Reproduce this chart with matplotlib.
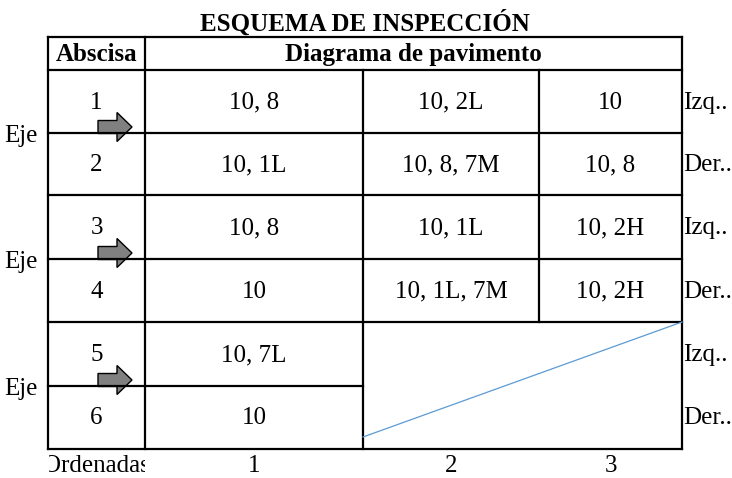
import matplotlib
matplotlib.use("Agg")
import matplotlib.pyplot as plt
from matplotlib.patches import FancyArrow, Rectangle

# table content
titulo = "ESQUEMA DE INSPECCIÓN"
encabezados = ["Abscisa", "Diagrama de pavimento"]
abscisas = ["1", "2", "3", "4", "5", "6"]
col_1 = ["10, 8", "10, 1L", "10, 8", "10", "10, 7L", "10"]
col_2 = ["10, 2L", "10, 8, 7M", "10, 1L", "10, 1L, 7M"]
col_3 = ["10", "10, 8", "10, 2H", "10, 2H"]
lados = ["Izq..", "Der..:", "Izq..", "Der..", "Izq..", "Der.."]
ordenadas = ["1", "2", "3"]

plt.rcParams["font.family"] = ["Liberation Serif", "DejaVu Serif"]
FS = 18

fig = plt.figure(figsize=(7.32, 4.78), dpi=100)
ax = fig.add_axes([0, 0, 1, 1])
ax.set_xlim(0, 732)
ax.set_ylim(478, 0)
ax.axis("off")

# layout in pixels
xs = [48, 145, 363, 539, 682]
ys = [70, 133, 195, 259, 322, 386, 449]
top = 37
lw = 1.6

def hline(y, x0, x1):
    ax.plot([x0, x1], [y, y], color="black", lw=lw, solid_capstyle="projecting")

def vline(x, y0, y1):
    ax.plot([x, x], [y0, y1], color="black", lw=lw, solid_capstyle="projecting")

hline(top, xs[0], xs[-1])
hline(ys[0], xs[0], xs[-1])
for y in ys[1:5]:
    hline(y, xs[0], xs[-1])
hline(ys[5], xs[0], xs[2])
hline(ys[6], xs[0], xs[-1])
vline(xs[0], top, ys[-1])
vline(xs[1], top, ys[-1])
vline(xs[2], ys[0], ys[-1])
vline(xs[3], ys[0], ys[4])
vline(xs[4], top, ys[-1])

# blue diagonal in the empty block
ax.plot([xs[2], xs[4]], [ys[6] - 12, ys[4]], color="#5b9bd5", lw=0.9)

ax.text((xs[0] + xs[-1]) / 2, 23, titulo, ha="center", va="center",
        fontsize=FS, fontweight="bold")
ax.text((xs[0] + xs[1]) / 2, (top + ys[0]) / 2 + 1, encabezados[0], ha="center",
        va="center", fontsize=FS, fontweight="bold")
ax.text((xs[1] + xs[-1]) / 2, (top + ys[0]) / 2 + 1, encabezados[1], ha="center",
        va="center", fontsize=FS, fontweight="bold")

columnas = [abscisas, col_1, col_2, col_3]
for c, valores in enumerate(columnas):
    cx = (xs[c] + xs[c + 1]) / 2
    for r, txt in enumerate(valores):
        cy = (ys[r] + ys[r + 1]) / 2
        ax.text(cx, cy + 1, txt, ha="center", va="center", fontsize=FS)

for r, txt in enumerate(lados):
    cy = (ys[r] + ys[r + 1]) / 2
    ax.text(xs[-1] + 1, cy + 1, txt, ha="left", va="center", fontsize=FS)

# arrows and "Eje" at each pair divider
for y in ys[1:6:2]:
    ax.add_patch(FancyArrow(98, y - 6, 34, 0, width=13, head_width=29,
                            head_length=15, length_includes_head=True,
                            facecolor="#808080", edgecolor="black", lw=1.0))
    ax.text(4, y + 3, "Eje", ha="left", va="center", fontsize=FS)

# "Ordenadas" overflows its cell and is cut at the cell edges
t = ax.text((xs[0] + xs[1]) / 2, 466, "Ordenadas", ha="center", va="center",
            fontsize=FS, clip_on=True)
t.set_clip_path(Rectangle((xs[0] + 1, 451), xs[1] - xs[0] - 1, 27,
                          transform=ax.transData))
for c, txt in enumerate(ordenadas):
    cx = (xs[c + 1] + xs[c + 2]) / 2
    ax.text(cx, 466, txt, ha="center", va="center", fontsize=FS)

fig.savefig("out.png", dpi=100)
